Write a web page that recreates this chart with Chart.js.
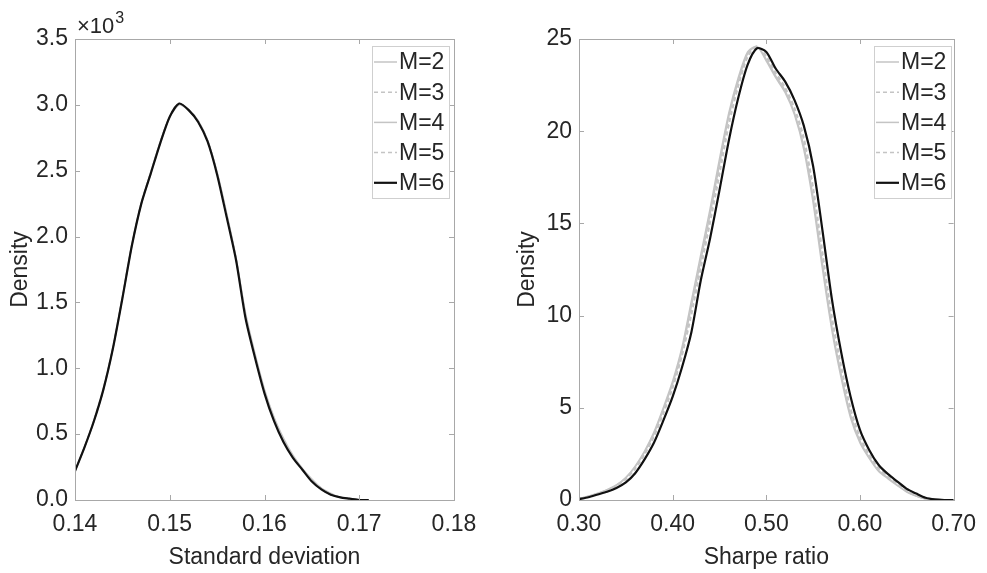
<!DOCTYPE html>
<html>
<head>
<meta charset="utf-8">
<script src="https://cdn.jsdelivr.net/npm/chart.js@4"></script>
<style>
  body { margin: 0; background: #fff; }
  #wrap { position: relative; width: 987px; height: 573px; }
  #sdChart { position: absolute; left: 0; top: 0; }
  #srChart { position: absolute; left: 493px; top: 0; }
</style>
</head>
<body>
<div id="wrap">
  <canvas id="sdChart" width="493" height="573"></canvas>
  <canvas id="srChart" width="494" height="573"></canvas>
</div>
<script>
const seriesLabels = ["M=2", "M=3", "M=4", "M=5", "M=6"];

// left panel: standard deviation (density in units of 10^3)
const sdX = [0.140, 0.141, 0.142, 0.143, 0.144, 0.145, 0.146, 0.147, 0.148, 0.149,
             0.150, 0.151, 0.152, 0.153, 0.154, 0.155, 0.156, 0.157, 0.158, 0.159,
             0.160, 0.161, 0.162, 0.163, 0.164, 0.165, 0.166, 0.167, 0.168, 0.169,
             0.170, 0.171];
const sdM2 = [0.22, 0.40, 0.60, 0.84, 1.15, 1.54, 1.94, 2.25, 2.49, 2.72,
              2.91, 3.00, 2.96, 2.88, 2.73, 2.49, 2.18, 1.84, 1.42, 1.11,
              0.84, 0.63, 0.47, 0.34, 0.24, 0.16, 0.09, 0.05, 0.02, 0.01, 0.00, 0.00];
const sdM3 = [0.22, 0.40, 0.61, 0.85, 1.16, 1.54, 1.94, 2.26, 2.49, 2.72,
              2.91, 3.00, 2.96, 2.88, 2.73, 2.48, 2.17, 1.83, 1.41, 1.10,
              0.83, 0.62, 0.46, 0.33, 0.24, 0.15, 0.09, 0.05, 0.02, 0.01, 0.00, 0.00];
const sdM4 = [0.22, 0.40, 0.60, 0.84, 1.15, 1.53, 1.93, 2.25, 2.48, 2.71,
              2.91, 3.01, 2.96, 2.87, 2.73, 2.48, 2.17, 1.83, 1.40, 1.10,
              0.83, 0.62, 0.46, 0.33, 0.23, 0.15, 0.09, 0.04, 0.02, 0.01, 0.00, 0.00];
const sdM5 = [0.22, 0.40, 0.60, 0.84, 1.15, 1.53, 1.93, 2.25, 2.48, 2.71,
              2.91, 3.01, 2.96, 2.87, 2.72, 2.47, 2.16, 1.82, 1.39, 1.09,
              0.82, 0.61, 0.45, 0.33, 0.23, 0.15, 0.08, 0.04, 0.02, 0.01, 0.00, 0.00];
const sdM6 = [0.22, 0.40, 0.60, 0.84, 1.15, 1.53, 1.93, 2.25, 2.48, 2.71,
              2.91, 3.01, 2.96, 2.87, 2.72, 2.47, 2.15, 1.82, 1.38, 1.08,
              0.81, 0.60, 0.44, 0.32, 0.23, 0.14, 0.08, 0.04, 0.02, 0.01, 0.00, 0.00];

// right panel: Sharpe ratio
const srX = [0.30, 0.31, 0.32, 0.33, 0.34, 0.35, 0.36, 0.37, 0.38, 0.39,
             0.40, 0.41, 0.42, 0.43, 0.44, 0.45, 0.46, 0.47, 0.48, 0.49,
             0.50, 0.51, 0.52, 0.53, 0.54, 0.55, 0.56, 0.57, 0.58, 0.59,
             0.60, 0.61, 0.62, 0.63, 0.64, 0.65, 0.66, 0.67, 0.68, 0.69, 0.70];
const srM2 = [0.08, 0.20, 0.36, 0.55, 0.80, 1.20, 1.80, 2.60, 3.60, 4.90,
              6.30, 8.10, 10.5, 13.0, 15.5, 18.2, 20.8, 22.7, 24.2, 24.6,
              23.9, 23.0, 22.2, 21.0, 19.2, 16.4, 12.8, 9.40, 6.80, 4.60,
              3.20, 2.30, 1.60, 1.20, 0.80, 0.45, 0.22, 0.07, 0.01, 0.00, 0.00];
const srM3 = [0.07, 0.19, 0.35, 0.54, 0.78, 1.15, 1.72, 2.50, 3.50, 4.75,
              6.15, 7.90, 10.2, 12.7, 15.2, 17.9, 20.5, 22.5, 24.1, 24.6,
              24.0, 23.1, 22.3, 21.2, 19.5, 16.8, 13.2, 9.80, 7.10, 4.85,
              3.35, 2.40, 1.70, 1.25, 0.85, 0.48, 0.24, 0.08, 0.02, 0.00, 0.00];
const srM4 = [0.08, 0.21, 0.37, 0.56, 0.82, 1.22, 1.84, 2.65, 3.68, 5.00,
              6.45, 8.30, 10.8, 13.3, 15.8, 18.5, 21.0, 22.9, 24.3, 24.6,
              23.8, 22.9, 22.1, 20.9, 19.0, 16.1, 12.5, 9.20, 6.60, 4.45,
              3.10, 2.25, 1.55, 1.15, 0.78, 0.43, 0.21, 0.06, 0.01, 0.00, 0.00];
const srM5 = [0.07, 0.19, 0.34, 0.52, 0.76, 1.12, 1.68, 2.45, 3.42, 4.65,
              6.05, 7.80, 10.0, 12.5, 15.0, 17.6, 20.3, 22.4, 24.0, 24.6,
              24.1, 23.2, 22.4, 21.3, 19.7, 17.0, 13.5, 10.0, 7.30, 5.00,
              3.45, 2.48, 1.75, 1.30, 0.88, 0.50, 0.26, 0.09, 0.02, 0.00, 0.00];
const srM6 = [0.05, 0.15, 0.30, 0.45, 0.65, 0.95, 1.45, 2.20, 3.10, 4.30,
              5.60, 7.20, 9.10, 11.9, 14.2, 16.8, 19.5, 21.8, 23.6, 24.5,
              24.3, 23.4, 22.7, 21.7, 20.3, 18.1, 14.6, 10.9, 8.00, 5.60,
              3.80, 2.70, 1.90, 1.40, 1.00, 0.60, 0.35, 0.12, 0.03, 0.00, 0.00];

const sdTicksX = [0.14, 0.15, 0.16, 0.17, 0.18];
const srTicksX = [0.30, 0.40, 0.50, 0.60, 0.70];

const TEXT = "#262626";
const AXIS = "#a8a8a8";
const GREY = "#c4c4c4";
const FONT = "'Liberation Sans', Arial, sans-serif";

const lineStyles = [
    { color: GREY, width: 1.5, dash: [] },
    { color: GREY, width: 1.5, dash: [4, 3] },
    { color: GREY, width: 1.5, dash: [] },
    { color: GREY, width: 1.5, dash: [4, 3] },
    { color: "#111111", width: 2.2, dash: [] }
];

function makeDatasets(xs, seriesList) {
    return seriesList.map((ys, i) => ({
        label: seriesLabels[i],
        data: xs.map((x, j) => ({ x: x, y: ys[j] })),
        borderColor: lineStyles[i].color,
        borderWidth: lineStyles[i].width,
        borderDash: lineStyles[i].dash,
        order: seriesList.length - i,   // M=6 drawn last, on top
        pointRadius: 0,
        tension: 0.25,
        fill: false
    }));
}

// box, inward ticks, in-axes legend, exponent label
const matlabLook = {
    id: "matlabLook",
    afterDraw(chart, args, opts) {
        const ctx = chart.ctx;
        const a = chart.chartArea;
        const xs = chart.scales.x;
        const ys = chart.scales.y;
        ctx.save();
        ctx.strokeStyle = AXIS;
        ctx.lineWidth = 1;
        ctx.setLineDash([]);
        ctx.strokeRect(Math.round(a.left) + 0.5, Math.round(a.top) + 0.5,
                       Math.round(a.right - a.left), Math.round(a.bottom - a.top));
        ctx.beginPath();
        xs.ticks.forEach(t => {
            const px = Math.round(xs.getPixelForValue(t.value)) + 0.5;
            ctx.moveTo(px, a.bottom); ctx.lineTo(px, a.bottom - 5);
            ctx.moveTo(px, a.top); ctx.lineTo(px, a.top + 5);
        });
        ys.ticks.forEach(t => {
            const py = Math.round(ys.getPixelForValue(t.value)) + 0.5;
            ctx.moveTo(a.left, py); ctx.lineTo(a.left + 5, py);
            ctx.moveTo(a.right, py); ctx.lineTo(a.right - 5, py);
        });
        ctx.stroke();

        // legend
        const lx = a.left + opts.legendLeft;
        const ly = a.top + 7;
        const w = 77, h = 152;
        ctx.fillStyle = "#fff";
        ctx.fillRect(lx, ly, w, h);
        ctx.strokeStyle = "#cfcfcf";
        ctx.strokeRect(lx + 0.5, ly + 0.5, w, h);
        ctx.font = "23px " + FONT;
        ctx.textBaseline = "middle";
        ctx.textAlign = "left";
        chart.data.datasets.forEach((ds, i) => {
            const cy = ly + 16 + i * 30.2;
            ctx.strokeStyle = ds.borderColor;
            ctx.lineWidth = ds.borderWidth;
            ctx.setLineDash(ds.borderDash);
            ctx.beginPath();
            ctx.moveTo(lx + 2, cy);
            ctx.lineTo(lx + 25, cy);
            ctx.stroke();
            ctx.setLineDash([]);
            ctx.fillStyle = TEXT;
            ctx.fillText(ds.label, lx + 27, cy + 1);
        });

        if (opts.exponent) {
            ctx.fillStyle = TEXT;
            ctx.textBaseline = "alphabetic";
            ctx.font = "22px " + FONT;
            ctx.fillText("\u00d710", a.left + 2, a.top - 6);
            const wx = ctx.measureText("\u00d710").width;
            ctx.font = "16px " + FONT;
            ctx.fillText(opts.exponent, a.left + 3 + wx, a.top - 16);
        }
        ctx.restore();
    }
};

function makeOptions(cfg) {
    return {
        responsive: false,
        animation: false,
        layout: { padding: { left: 0, top: 39, right: cfg.rightPad, bottom: 0 } },
        plugins: {
            legend: { display: false },
            tooltip: { enabled: false },
            matlabLook: { legendLeft: cfg.legendLeft, exponent: cfg.exponent }
        },
        scales: {
            x: {
                type: "linear",
                min: cfg.xMin, max: cfg.xMax,
                afterBuildTicks: s => { s.ticks = cfg.xTicks.map(v => ({ value: v })); },
                afterFit: s => { s.height = 73; },
                grid: { display: false, drawTicks: false },
                border: { display: false },
                ticks: {
                    color: TEXT, padding: 11,
                    font: { family: FONT, size: 23 },
                    maxRotation: 0,
                    callback: v => v.toFixed(2)
                },
                title: {
                    display: true, text: cfg.xTitle, color: TEXT,
                    font: { family: FONT, size: 23 },
                    padding: { top: 0, bottom: 2 }
                }
            },
            y: {
                min: 0, max: cfg.yMax,
                ticks: {
                    stepSize: cfg.yStep, color: TEXT, padding: 7,
                    font: { family: FONT, size: 23 },
                    callback: v => v.toFixed(cfg.yDigits)
                },
                afterFit: s => { s.width = cfg.yWidth; },
                grid: { display: false, drawTicks: false },
                border: { display: false },
                title: {
                    display: true, text: "Density", color: TEXT,
                    font: { family: FONT, size: 23 },
                    padding: { top: cfg.yTitlePad, bottom: 0 }
                }
            }
        }
    };
}

new Chart(document.getElementById("sdChart"), {
    type: "line",
    data: { datasets: makeDatasets(sdX, [sdM2, sdM3, sdM4, sdM5, sdM6]) },
    options: makeOptions({
        rightPad: 39, yWidth: 75, yTitlePad: 7, legendLeft: 297,
        xMin: 0.14, xMax: 0.18, xTicks: sdTicksX, xTitle: "Standard deviation",
        yMax: 3.5, yStep: 0.5, yDigits: 1, exponent: "3"
    }),
    plugins: [matlabLook]
});

new Chart(document.getElementById("srChart"), {
    type: "line",
    data: { datasets: makeDatasets(srX, [srM2, srM3, srM4, srM5, srM6]) },
    options: makeOptions({
        rightPad: 29, yWidth: 86, yTitlePad: 21, legendLeft: 295,
        xMin: 0.30, xMax: 0.70, xTicks: srTicksX, xTitle: "Sharpe ratio",
        yMax: 25, yStep: 5, yDigits: 0, exponent: null
    }),
    plugins: [matlabLook]
});
</script>
</body>
</html>
